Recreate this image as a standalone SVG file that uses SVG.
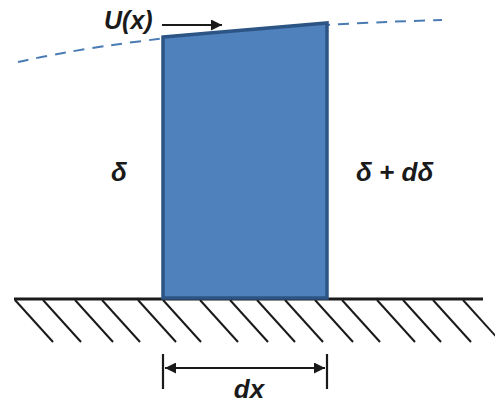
<svg xmlns="http://www.w3.org/2000/svg" width="495" height="403" viewBox="0 0 495 403">
<defs>
<style>
.lbl{font-family:"Liberation Sans",Arial,sans-serif;font-weight:bold;font-style:italic;fill:#1a1a1a}
.hatch{stroke:#1a1a1a;stroke-width:2;fill:none}
.dim{stroke:#1a1a1a;stroke-width:2.2;fill:none}
</style>
<marker id="ah" viewBox="0 0 10 10" refX="10" refY="5" markerWidth="5" markerHeight="5" orient="auto-start-reverse" markerUnits="strokeWidth">
<path d="M0,0 L10,5 L0,10 z" fill="#1a1a1a"/>
</marker>
</defs>
<rect width="495" height="403" fill="#ffffff"/>
<g id="edge-layer">
<path d="M18,62 Q170,28 442,20" fill="none" stroke="#4a7cb4" stroke-width="2" stroke-dasharray="11,8"/>
</g>
<g id="ground">
<line x1="14" y1="299" x2="483" y2="299" stroke="#1a1a1a" stroke-width="3"/>
<g class="hatch">
<line x1="15" y1="300" x2="53" y2="342"/>
<line x1="43" y1="300" x2="81" y2="342"/>
<line x1="75" y1="300" x2="113" y2="342"/>
<line x1="102" y1="300" x2="140" y2="342"/>
<line x1="138" y1="300" x2="176" y2="342"/>
<line x1="163" y1="300" x2="201" y2="342"/>
<line x1="200" y1="300" x2="238" y2="342"/>
<line x1="230" y1="300" x2="268" y2="342"/>
<line x1="257" y1="300" x2="295" y2="342"/>
<line x1="285" y1="300" x2="323" y2="342"/>
<line x1="315" y1="300" x2="353" y2="342"/>
<line x1="342" y1="300" x2="380" y2="342"/>
<line x1="377" y1="300" x2="415" y2="342"/>
<line x1="403" y1="300" x2="441" y2="342"/>
<line x1="433" y1="300" x2="471" y2="342"/>
<line x1="463" y1="300" x2="501" y2="342"/>
</g>
</g>
<g id="element">
<polygon points="163,37 327,23 327,298 163,298" fill="#4f81bd" stroke="#2c5585" stroke-width="3.5" stroke-linejoin="miter"/>
</g>
<g id="velocity">
<line x1="162" y1="25" x2="222" y2="25" class="dim" stroke-width="2" marker-end="url(#ah)"/>
<text class="lbl" x="104" y="29" font-size="25">U(x)</text>
</g>
<g id="left-label">
<text class="lbl" x="111" y="181" font-size="26">δ</text>
</g>
<g id="right-label">
<text class="lbl" x="356" y="181" font-size="26">δ + dδ</text>
</g>
<g id="dimension">
<line x1="163" y1="354" x2="163" y2="389" class="dim"/>
<line x1="327" y1="354" x2="327" y2="389" class="dim"/>
<line x1="165" y1="368" x2="325" y2="368" class="dim" marker-start="url(#ah)" marker-end="url(#ah)"/>
<text class="lbl" x="249" y="398" font-size="26" text-anchor="middle">dx</text>
</g>
</svg>
